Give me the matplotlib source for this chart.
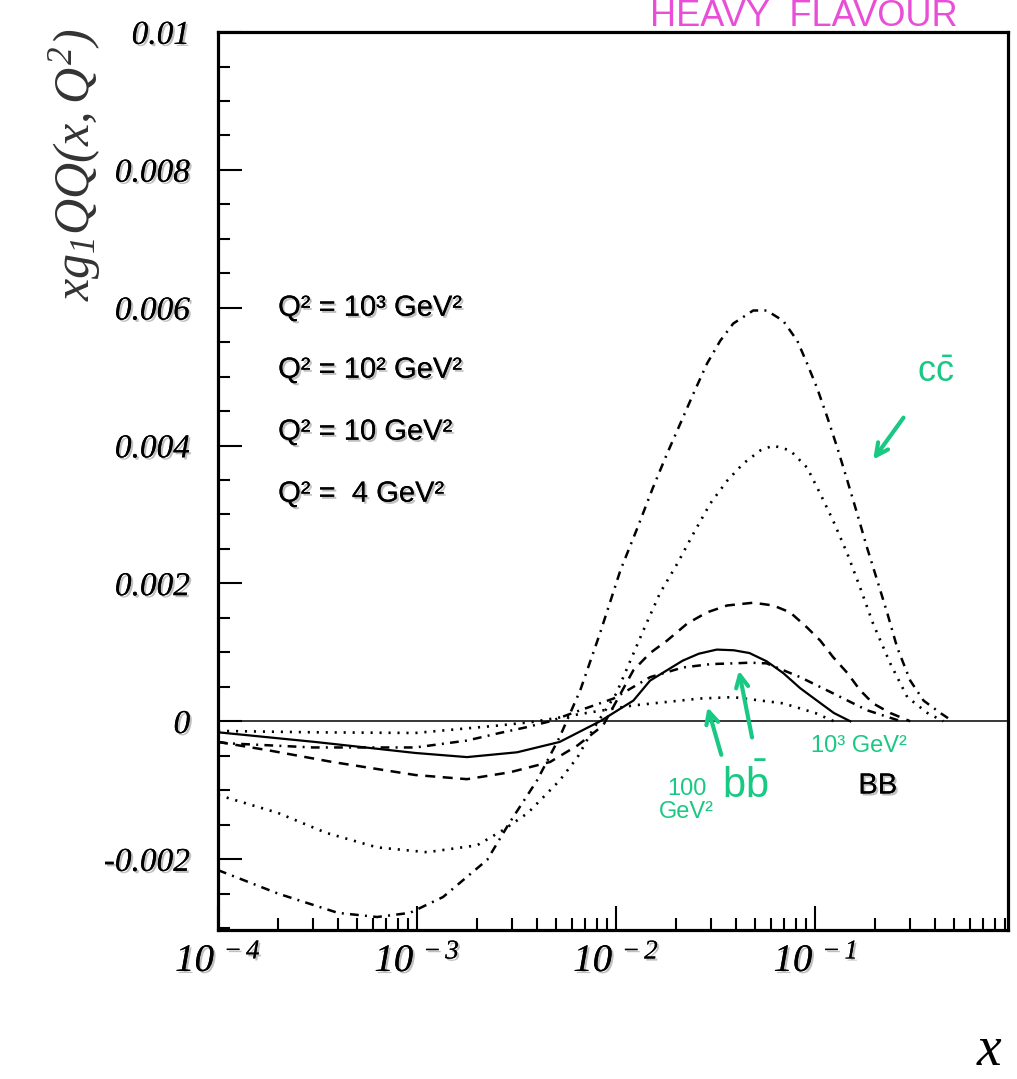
import math
import matplotlib
matplotlib.use('Agg')
import matplotlib.pyplot as plt
import matplotlib.patheffects as pe
from matplotlib.ticker import LogLocator, MultipleLocator, FuncFormatter, NullFormatter

plt.rcParams['mathtext.fontset'] = 'custom'
plt.rcParams['mathtext.rm'] = 'Liberation Serif:italic'
plt.rcParams['mathtext.it'] = 'Liberation Serif:italic'
plt.rcParams['mathtext.sf'] = 'Liberation Sans'

# c cbar, Q2 = 10^3 GeV^2 (punto-raya)
x_c1000 = [1e-4, 2e-4, 4e-4, 6.3e-4, 9.2e-4, 1.35e-3, 2.25e-3, 2.9e-3, 4.0e-3, 5.2e-3, 6.6e-3, 8.3e-3,
           0.0105, 0.0128, 0.0153, 0.018, 0.021, 0.0244, 0.0286, 0.0333, 0.0387, 0.0488, 0.057, 0.069,
           0.0813, 0.091, 0.102, 0.115, 0.129, 0.145, 0.1625, 0.182, 0.205, 0.23, 0.258, 0.30, 0.35,
           0.425, 0.49]
y_c1000 = [-0.00216, -0.0025, -0.00278, -0.00284, -0.00278, -0.00255, -0.00201, -0.00148, -0.00086,
           -0.00023, 0.00045, 0.00128, 0.00219, 0.00281, 0.00339, 0.00388, 0.00432, 0.00475, 0.00519,
           0.00552, 0.00577, 0.00596, 0.00596, 0.00581, 0.00552, 0.00519, 0.00484, 0.00441, 0.00397,
           0.00349, 0.00301, 0.00252, 0.00204, 0.00157, 0.00107, 0.00059, 0.0003, 0.00012, 0.0]

# c cbar, Q2 = 10^2 GeV^2 (puntos)
x_c100 = [1e-4, 2e-4, 3.5e-4, 6.3e-4, 1.12e-3, 2.0e-3, 2.7e-3, 3.6e-3, 5.2e-3, 6.4e-3, 7.6e-3, 0.01,
          0.0137, 0.0166, 0.0203, 0.0244, 0.0297, 0.0361, 0.0435, 0.053, 0.0615, 0.0748, 0.091, 0.106,
          0.123, 0.145, 0.168, 0.195, 0.238, 0.29, 0.366, 0.44]
y_c100 = [-0.00107, -0.00133, -0.00162, -0.00183, -0.0019, -0.0018, -0.00158, -0.00133, -0.00086,
          -0.00052, -0.00013, 0.0004, 0.00132, 0.00186, 0.00229, 0.00272, 0.00316, 0.00349, 0.00374,
          0.00393, 0.004, 0.00393, 0.00368, 0.0033, 0.00291, 0.00243, 0.00194, 0.00142, 0.00084,
          0.00035, 0.00012, 0.0]

# c cbar, Q2 = 10 GeV^2 (rayas)
x_c10 = [1e-4, 1.78e-4, 3.74e-4, 9.8e-4, 1.78e-3, 2.93e-3, 4.66e-3, 6.4e-3, 8.6e-3, 0.0122, 0.0148,
         0.018, 0.0228, 0.0286, 0.0361, 0.0488, 0.0615, 0.0748, 0.091, 0.106, 0.123, 0.145, 0.168,
         0.195, 0.238, 0.30]
y_c10 = [-0.0003, -0.00042, -0.00059, -0.00078, -0.00084, -0.00074, -0.00059, -0.00035, -0.00006,
         0.00074, 0.00099, 0.00117, 0.00142, 0.00158, 0.00168, 0.00172, 0.00168, 0.00158, 0.00136,
         0.00117, 0.00093, 0.0007, 0.00045, 0.00026, 0.00012, 0.0]

# c cbar, Q2 = 4 GeV^2 (continua)
x_c4 = [1e-4, 3.07e-4, 9.8e-4, 1.78e-3, 3.18e-3, 5.2e-3, 8.3e-3, 0.0122, 0.0148, 0.0216, 0.026,
        0.032, 0.039, 0.0467, 0.057, 0.069, 0.084, 0.102, 0.124, 0.15]
y_c4 = [-0.00016, -0.0003, -0.00046, -0.00052, -0.00045, -0.0003, 0.0, 0.0003, 0.00059, 0.00088,
        0.00098, 0.00104, 0.00103, 0.00099, 0.00087, 0.0007, 0.00048, 0.0003, 0.00012, 0.0]

# b bbar, Q2 = 10^3 GeV^2 (punto-raya)
x_b1000 = [1e-4, 1.12e-4, 3e-4, 9.8e-4, 1.78e-3, 2.6e-3, 3.5e-3, 4.66e-3, 6.6e-3, 9.7e-3, 0.0148,
           0.0216, 0.03, 0.0387, 0.047, 0.057, 0.084, 0.124, 0.182, 0.27]
y_b1000 = [-0.0003, -0.00032, -0.00038, -0.00038, -0.00028, -0.00017, -0.00009, 0.0, 0.00016,
           0.00033, 0.00064, 0.00078, 0.00083, 0.00084, 0.00085, 0.00084, 0.00064, 0.0004, 0.00016, 0.0]

# b bbar, Q2 = 10^2 GeV^2 (puntos)
x_b100 = [1e-4, 3e-4, 9.8e-4, 2.6e-3, 3.8e-3, 7.1e-3, 0.0122, 0.0264, 0.0387, 0.069, 0.10, 0.124]
y_b100 = [-0.00014, -0.00016, -0.00017, -0.00006, -0.00001, 0.00012, 0.00023, 0.00033, 0.00035,
          0.00026, 0.00012, 0.0]

leyenda = ['Q² = 10³ GeV²', 'Q² = 10² GeV²', 'Q² = 10 GeV²', 'Q² =  4 GeV²']

dashdot = (3.5, 2.5, 0.8, 2.5)
dotted = (0.8, 2.6)
dashed = (4, 3)

fig = plt.figure(figsize=(10.17, 10.79), dpi=100)
ax = fig.add_axes([0.2144, 0.138, 0.7768, 0.8323])

ax.axhline(0, color='black', lw=1.1)
ax.plot(x_c1000, y_c1000, color='black', lw=1.8, dashes=dashdot)
ax.plot(x_c100, y_c100, color='black', lw=1.9, dashes=dotted)
ax.plot(x_c10, y_c10, color='black', lw=1.8, dashes=dashed)
ax.plot(x_c4, y_c4, color='black', lw=1.6, linestyle='-')
ax.plot(x_b1000, y_b1000, color='black', lw=1.8, dashes=dashdot)
ax.plot(x_b100, y_b100, color='black', lw=1.9, dashes=dotted)

ax.set_xscale('log')
ax.set_xlim(1e-4, 0.93)
ax.set_ylim(-0.00303, 0.01)

ax.yaxis.set_major_locator(MultipleLocator(0.002))
ax.yaxis.set_minor_locator(MultipleLocator(0.0005))
ax.yaxis.set_major_formatter(FuncFormatter(lambda v, p: '%g' % round(v, 6)))
ax.xaxis.set_major_locator(LogLocator(base=10, numticks=10))
ax.xaxis.set_minor_locator(LogLocator(base=10, subs=range(2, 10), numticks=20))
ax.xaxis.set_minor_formatter(NullFormatter())
ax.xaxis.set_major_formatter(FuncFormatter(
    lambda v, p: r'$10^{\;%d}$' % round(math.log10(v))))

ax.tick_params(which='both', direction='in', top=False, right=False, width=1.5)
ax.tick_params(which='major', length=17)
ax.tick_params(which='minor', length=8.5)
ax.tick_params(axis='y', which='major', pad=20, labelsize=24)
ax.tick_params(axis='x', which='major', pad=8, labelsize=28)

sombra = [pe.withSimplePatchShadow(offset=(1.5, -1.5), shadow_rgbFace='gray', alpha=0.5), pe.Normal()]
for lab in ax.get_yticklabels():
    lab.set_fontfamily('Liberation Serif')
    lab.set_fontstyle('italic')
    lab.set_path_effects(sombra)
for lab in ax.get_xticklabels():
    lab.set_path_effects(sombra)

for s in ax.spines.values():
    s.set_linewidth(2.3)

# leyenda (solo texto, como en el original)
for i, t in enumerate(leyenda):
    ax.text(0.076, 0.693 - i * 0.069, t, transform=ax.transAxes, fontsize=21,
            family='Liberation Sans', va='center', ha='left', path_effects=sombra)

ax.text(0.835, 0.161, 'BB', transform=ax.transAxes, fontsize=21, family='Liberation Sans',
        va='center', ha='center', path_effects=sombra)

# etiquetas de ejes
fig.text(0.074, 0.847, r'$xg_1QQ(x,Q^2)$', rotation=90, fontsize=36, ha='center', va='center',
         color='#333333')
fig.text(0.973, 0.027, r'$x$', fontsize=40, ha='center', va='center')

# anotaciones a mano
verde = '#19c983'
flecha = dict(arrowstyle='->', color=verde, lw=3, mutation_scale=22)
fig.text(0.92, 0.655, r'$\mathsf{c\bar{c}}$', color=verde, fontsize=26, ha='center', va='center')
ax.annotate('', xy=(0.857, 0.572), xytext=(0.890, 0.615), xycoords='figure fraction',
            textcoords='figure fraction', arrowprops=flecha, annotation_clip=False)
fig.text(0.733, 0.272, r'$\mathsf{b\bar{b}}$', color=verde, fontsize=30, ha='center', va='center')
ax.annotate('', xy=(0.726, 0.381), xytext=(0.740, 0.314), xycoords='figure fraction',
            textcoords='figure fraction', arrowprops=flecha, annotation_clip=False)
ax.annotate('', xy=(0.695, 0.347), xytext=(0.710, 0.298), xycoords='figure fraction',
            textcoords='figure fraction', arrowprops=flecha, annotation_clip=False)
fig.text(0.845, 0.309, '10³ GeV²', color=verde, fontsize=17, family='Liberation Sans',
         ha='center', va='center')
fig.text(0.675, 0.258, '100\nGeV²', color=verde, fontsize=17, family='Liberation Sans',
         ha='center', va='center', linespacing=1.1)
fig.text(0.79, 1 - 26 / 1079, 'HEAVY  FLAVOUR', color='#e84fd6', fontsize=26,
         family='Liberation Sans', ha='center', va='baseline')

plt.savefig('out.png', dpi=100)
